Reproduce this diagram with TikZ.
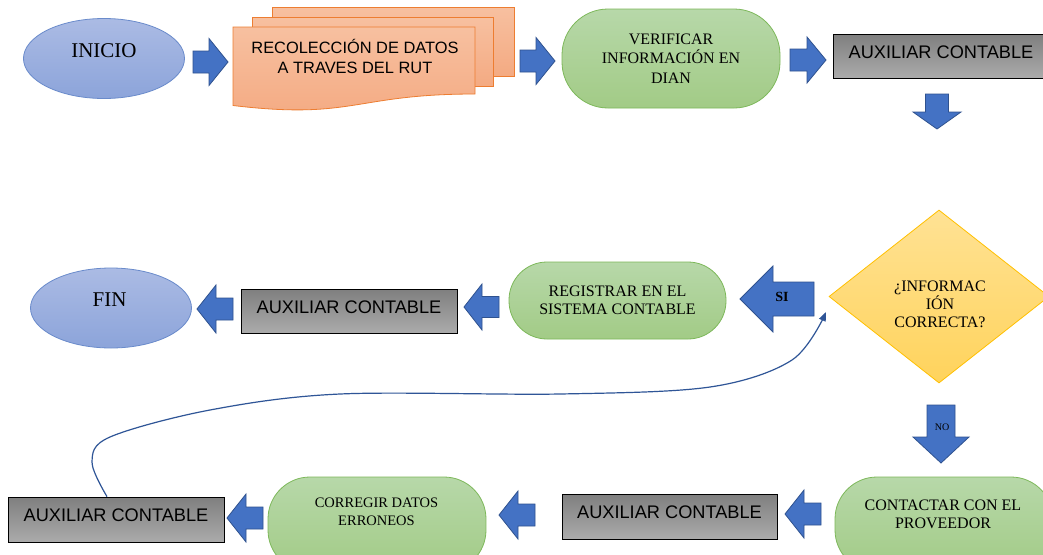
\documentclass[tikz,border=0pt]{standalone}
\usepackage{fontspec}
\setmainfont{Liberation Serif}
\newfontfamily\sansf{Liberation Sans}
\usetikzlibrary{shapes.geometric,arrows.meta,calc}
\definecolor{blkfill}{HTML}{4472C4}
\definecolor{blkdraw}{HTML}{2F528F}
\definecolor{ovaltop}{HTML}{ABBBE4}
\definecolor{ovalbot}{HTML}{8CA4DA}
\definecolor{ovaldraw}{HTML}{6A8BCB}
\definecolor{doctop}{HTML}{F7C0A0}
\definecolor{docbot}{HTML}{F4AA82}
\definecolor{docdraw}{HTML}{ED7D31}
\definecolor{grntop}{HTML}{B7D8A9}
\definecolor{grnbot}{HTML}{A2CB86}
\definecolor{grndraw}{HTML}{7DB85A}
\definecolor{graytop}{HTML}{7F7F7F}
\definecolor{graybot}{HTML}{ABABAB}
\definecolor{dmdtop}{HTML}{FFE294}
\definecolor{dmdbot}{HTML}{FFD35C}
\definecolor{dmddraw}{HTML}{FFC000}
\definecolor{curvec}{HTML}{2F5597}
% tip ; angle ; total length ; head length ; shaft half ; head half
\newcommand\blockarr[6]{\path[blkarrow,shift={(#1)},rotate=#2] (0,0) -- (-#4,#6) -- (-#4,#5) -- (-#3,#5) -- (-#3,-#5) -- (-#4,-#5) -- (-#4,-#6) -- cycle;}
\tikzset{
  blkarrow/.style={fill=blkfill, draw=blkdraw, line width=0.8pt, line join=miter},
  oval/.style={ellipse, draw=ovaldraw, line width=0.8pt, top color=ovaltop, bottom color=ovalbot, minimum width=161pt, minimum height=80pt, inner sep=0pt},
  bigserif/.style={font=\fontsize{21}{24}\selectfont},
  docsh/.style={draw=docdraw, line width=0.8pt, top color=doctop, bottom color=docbot},
  stadium/.style={rectangle, draw=grndraw, line width=0.8pt, top color=grntop, bottom color=grnbot, inner sep=0pt, align=center},
  auxbox/.style={rectangle, draw=black, line width=0.8pt, top color=graytop, bottom color=graybot, minimum width=216pt, minimum height=44pt, inner sep=0pt, font=\sansf\fontsize{18.2}{21}\selectfont, text height=12.9pt, text depth=8pt},
  serif16/.style={font=\fontsize{16}{18}\selectfont, align=center},
}
\begin{document}
\begin{tikzpicture}[x=1pt,y=-1pt]
\useasboundingbox (0,0) rectangle (1043,554);
\fill[white] (0,0) rectangle (1043,554);

% row 1
\node[oval] (inicio) at (104,58.5) {};
\node[bigserif] (inicioT) at (104,50.5) {INICIO};
\blockarr{228,62}{0}{35}{19}{11}{23.5}

\path[docsh] (272,7) rectangle (514,76);
\path[docsh] (252,17.5) rectangle (493,86);
\path[docsh] (233,27) -- (475,27) -- (475,94) .. controls (354,94) and (354,120) .. (233,105.5) -- cycle;
\node[font=\sansf\fontsize{16.4}{19.5}\selectfont, align=center] (recol) at (355,56.5) {RECOLECCIÓN DE DATOS\\A TRAVES DEL RUT};
\blockarr{555,61}{0}{35}{19}{11}{23.5}

\node[stadium, rounded corners=46pt, minimum width=218pt, minimum height=99pt, font=\fontsize{16}{19.5}\selectfont] (verif) at (671,58.5) {VERIFICAR\\INFORMACIÓN EN\\DIAN};
\blockarr{826,60}{0}{36}{19}{11}{23}

\node[auxbox] (aux1) at (941,56) {AUXILIAR CONTABLE};
\blockarr{937,129}{-90}{35}{17}{11.5}{24}

% decision
\node[diamond, draw=dmddraw, line width=0.8pt, top color=dmdtop, bottom color=dmdbot, minimum width=220pt, minimum height=173pt, inner sep=0pt] (dmd) at (939,296.5) {};
\node[serif16] (dmdT) at (940,304) {¿INFORMAC\\IÓN\\CORRECTA?};

\blockarr{740,299}{180}{74}{33}{17}{33}
\node[font=\bfseries\fontsize{14}{16}\selectfont] (siT) at (782,297) {SI};

\blockarr{941,463}{-90}{58}{26}{14}{28}
\node[font=\fontsize{10}{12}\selectfont] (noT) at (942,427) {NO};

% row 2
\node[stadium, rounded corners=38pt, minimum width=217pt, minimum height=77pt, font=\fontsize{16}{18}\selectfont] (regis) at (617.5,300.5) {REGISTRAR EN EL\\SISTEMA CONTABLE};
\blockarr{464,307}{180}{35}{18}{10.5}{23}
\node[auxbox] (aux2) at (349,311) {AUXILIAR CONTABLE};
\blockarr{197,309}{180}{36}{19}{11}{24}
\node[oval] (fin) at (111,308) {};
\node[bigserif] (finT) at (109.5,300) {FIN};

% row 3
\node[stadium, rounded corners=42pt, minimum width=218pt, minimum height=95pt] (contac) at (944,524.5) {};
\node[serif16] (contacT) at (943,514) {CONTACTAR CON EL\\PROVEEDOR};
\blockarr{785,514}{180}{36}{19}{11}{24}
\node[auxbox, minimum width=215pt, minimum height=45pt] (aux3) at (669.5,516.5) {AUXILIAR CONTABLE};
\blockarr{499,515}{180}{36}{19}{11}{24}
\node[stadium, rounded corners=42pt, minimum width=218pt, minimum height=95pt] (correg) at (377,524.5) {};
\node[font=\fontsize{14.5}{18}\selectfont, align=center] (corregT) at (376.5,512) {CORREGIR DATOS\\ERRONEOS};
\blockarr{227,518}{180}{36}{19}{11}{24}
\node[auxbox, minimum height=45pt] (aux4) at (116,519.5) {AUXILIAR CONTABLE};

% return curve
\coordinate (cs) at ([xshift=-9pt]aux4.north);
\coordinate (ce) at (826,312);
\draw[curvec, line width=1.2pt, -{Triangle[length=9pt,width=7pt]}] plot[smooth, tension=0.55] coordinates {(cs) (92,462) (110,437) (210,410) (340,394) (560,394) (710,387) (792,360) (ce)};
\end{tikzpicture}
\end{document}
